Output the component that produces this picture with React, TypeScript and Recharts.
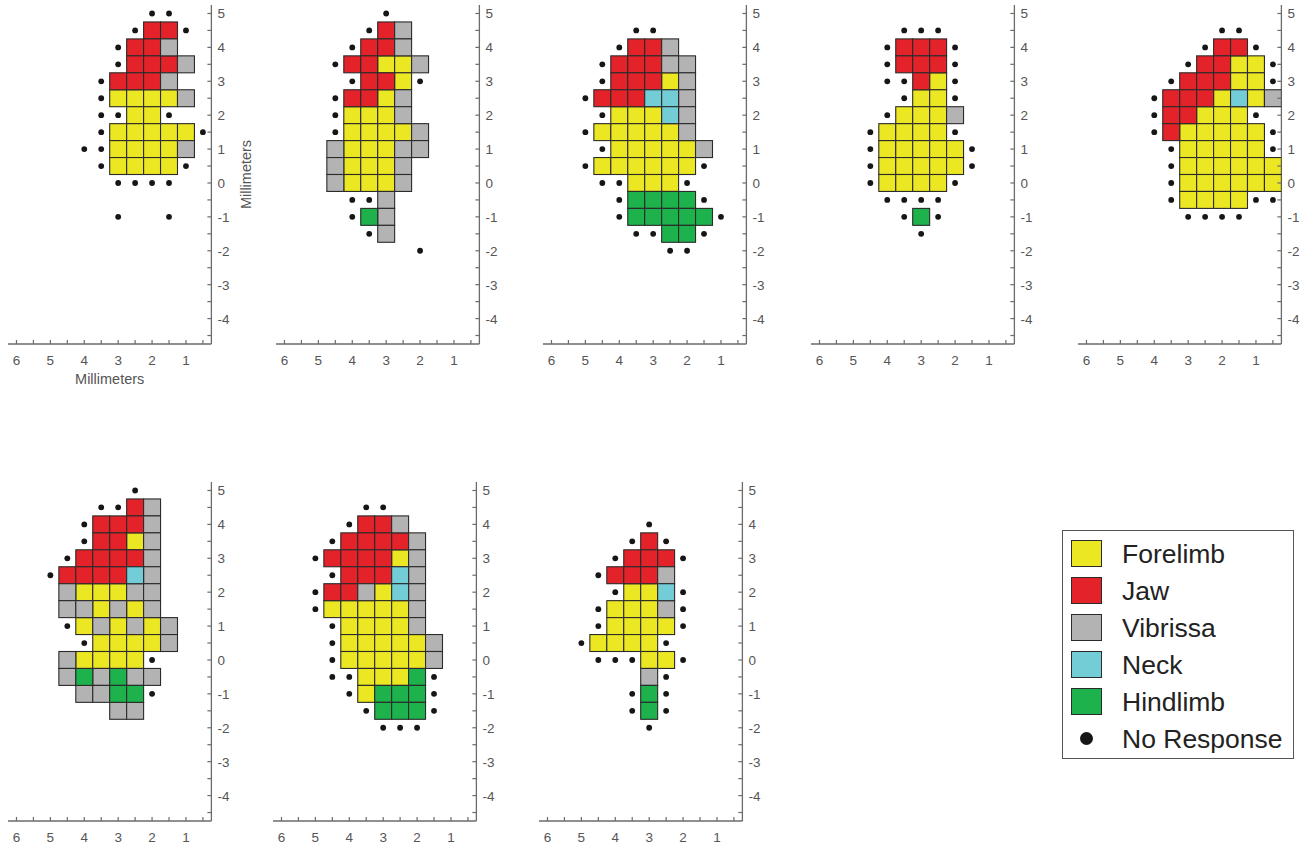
import React from 'react';
import { ScatterChart, Scatter, XAxis, YAxis, Label } from 'recharts';

type Kind = 'F' | 'J' | 'V' | 'N' | 'H';
type Site = [number, number, Kind];
type Pt = [number, number];

// response categories
const kinds: { key: Kind; label: string; color: string }[] = [
  { key: 'F', label: 'Forelimb', color: '#ebe723' },
  { key: 'J', label: 'Jaw', color: '#e4222a' },
  { key: 'V', label: 'Vibrissa', color: '#b3b3b3' },
  { key: 'N', label: 'Neck', color: '#73cdd6' },
  { key: 'H', label: 'Hindlimb', color: '#1db24c' },
];
const noResponseLabel = 'No Response';

const xTicks = [6, 5.5, 5, 4.5, 4, 3.5, 3, 2.5, 2, 1.5, 1, 0.5];
const yTicks = [5, 4.5, 4, 3.5, 3, 2.5, 2, 1.5, 1, 0.5, 0, -0.5, -1, -1.5, -2, -2.5, -3, -3.5, -4, -4.5];

// map 1
const sites1: Site[] = [
  [2, 4.5, 'J'], [1.5, 4.5, 'J'],
  [2.5, 4, 'J'], [2, 4, 'J'], [1.5, 4, 'V'],
  [2.5, 3.5, 'J'], [2, 3.5, 'J'], [1.5, 3.5, 'J'], [1, 3.5, 'V'],
  [3, 3, 'J'], [2.5, 3, 'J'], [2, 3, 'J'], [1.5, 3, 'V'],
  [3, 2.5, 'F'], [2.5, 2.5, 'F'], [2, 2.5, 'F'], [1.5, 2.5, 'F'], [1, 2.5, 'V'],
  [2.5, 2, 'F'], [2, 2, 'F'],
  [3, 1.5, 'F'], [2.5, 1.5, 'F'], [2, 1.5, 'F'], [1.5, 1.5, 'F'], [1, 1.5, 'F'],
  [3, 1, 'F'], [2.5, 1, 'F'], [2, 1, 'F'], [1.5, 1, 'F'], [1, 1, 'V'],
  [3, 0.5, 'F'], [2.5, 0.5, 'F'], [2, 0.5, 'F'], [1.5, 0.5, 'F'],
];
const dots1: Pt[] = [
  [2, 5], [1.5, 5], [2.5, 4.5], [1, 4.5], [3, 4], [3, 3.5], [3.5, 3], [3.5, 2.5],
  [3.5, 2], [3, 2], [1.5, 2], [3.5, 1.5], [0.5, 1.5], [4, 1], [3.5, 1], [3.5, 0.5], [1, 0.5],
  [3, 0], [2.5, 0], [2, 0], [1.5, 0], [3, -1], [1.5, -1],
];

// map 2
const sites2: Site[] = [
  [3, 4.5, 'J'], [2.5, 4.5, 'V'],
  [3.5, 4, 'J'], [3, 4, 'J'], [2.5, 4, 'V'],
  [4, 3.5, 'J'], [3.5, 3.5, 'J'], [3, 3.5, 'F'], [2.5, 3.5, 'F'], [2, 3.5, 'V'],
  [3.5, 3, 'J'], [3, 3, 'J'], [2.5, 3, 'F'],
  [4, 2.5, 'J'], [3.5, 2.5, 'J'], [3, 2.5, 'F'], [2.5, 2.5, 'V'],
  [4, 2, 'F'], [3.5, 2, 'F'], [3, 2, 'F'], [2.5, 2, 'V'],
  [4, 1.5, 'F'], [3.5, 1.5, 'F'], [3, 1.5, 'F'], [2.5, 1.5, 'F'], [2, 1.5, 'V'],
  [4.5, 1, 'V'], [4, 1, 'F'], [3.5, 1, 'F'], [3, 1, 'F'], [2.5, 1, 'V'], [2, 1, 'V'],
  [4.5, 0.5, 'V'], [4, 0.5, 'F'], [3.5, 0.5, 'F'], [3, 0.5, 'F'], [2.5, 0.5, 'V'],
  [4.5, 0, 'V'], [4, 0, 'F'], [3.5, 0, 'F'], [3, 0, 'F'], [2.5, 0, 'V'],
  [3, -0.5, 'V'],
  [3.5, -1, 'H'], [3, -1, 'V'],
  [3, -1.5, 'V'],
];
const dots2: Pt[] = [
  [3, 5], [3.5, 4.5], [4, 4], [4.5, 3.5], [4, 3], [2, 3], [4.5, 2.5], [4.5, 2], [4.5, 1.5],
  [4, -0.5], [3.5, -0.5], [4, -1], [3.5, -1.5], [2, -2],
];

// map 3
const sites3: Site[] = [
  [3.5, 4, 'J'], [3, 4, 'J'], [2.5, 4, 'V'],
  [4, 3.5, 'J'], [3.5, 3.5, 'J'], [3, 3.5, 'J'], [2.5, 3.5, 'V'], [2, 3.5, 'V'],
  [4, 3, 'J'], [3.5, 3, 'J'], [3, 3, 'J'], [2.5, 3, 'F'], [2, 3, 'V'],
  [4.5, 2.5, 'J'], [4, 2.5, 'J'], [3.5, 2.5, 'J'], [3, 2.5, 'N'], [2.5, 2.5, 'N'], [2, 2.5, 'V'],
  [4, 2, 'F'], [3.5, 2, 'F'], [3, 2, 'F'], [2.5, 2, 'N'], [2, 2, 'V'],
  [4.5, 1.5, 'F'], [4, 1.5, 'F'], [3.5, 1.5, 'F'], [3, 1.5, 'F'], [2.5, 1.5, 'F'], [2, 1.5, 'V'],
  [4, 1, 'F'], [3.5, 1, 'F'], [3, 1, 'F'], [2.5, 1, 'F'], [2, 1, 'F'], [1.5, 1, 'V'],
  [4.5, 0.5, 'F'], [4, 0.5, 'F'], [3.5, 0.5, 'F'], [3, 0.5, 'F'], [2.5, 0.5, 'F'], [2, 0.5, 'F'],
  [3.5, 0, 'F'], [3, 0, 'F'], [2.5, 0, 'F'],
  [3.5, -0.5, 'H'], [3, -0.5, 'H'], [2.5, -0.5, 'H'], [2, -0.5, 'H'],
  [3.5, -1, 'H'], [3, -1, 'H'], [2.5, -1, 'H'], [2, -1, 'H'], [1.5, -1, 'H'],
  [2.5, -1.5, 'H'], [2, -1.5, 'H'],
];
const dots3: Pt[] = [
  [3.5, 4.5], [3, 4.5], [4, 4], [4.5, 3.5], [4.5, 3], [5, 2.5], [4.5, 2], [5, 1.5], [4.5, 1],
  [5, 0.5], [1.5, 0.5], [4.5, 0], [4, 0], [2, 0], [4, -0.5], [1.5, -0.5], [4, -1], [1, -1],
  [3.5, -1.5], [3, -1.5], [1.5, -1.5], [2.5, -2], [2, -2],
];

// map 4
const sites4: Site[] = [
  [3.5, 4, 'J'], [3, 4, 'J'], [2.5, 4, 'J'],
  [3.5, 3.5, 'J'], [3, 3.5, 'J'], [2.5, 3.5, 'J'],
  [3, 3, 'J'], [2.5, 3, 'F'],
  [3, 2.5, 'F'], [2.5, 2.5, 'F'],
  [3.5, 2, 'F'], [3, 2, 'F'], [2.5, 2, 'F'], [2, 2, 'V'],
  [4, 1.5, 'F'], [3.5, 1.5, 'F'], [3, 1.5, 'F'], [2.5, 1.5, 'F'],
  [4, 1, 'F'], [3.5, 1, 'F'], [3, 1, 'F'], [2.5, 1, 'F'], [2, 1, 'F'],
  [4, 0.5, 'F'], [3.5, 0.5, 'F'], [3, 0.5, 'F'], [2.5, 0.5, 'F'], [2, 0.5, 'F'],
  [4, 0, 'F'], [3.5, 0, 'F'], [3, 0, 'F'], [2.5, 0, 'F'],
  [3, -1, 'H'],
];
const dots4: Pt[] = [
  [3.5, 4.5], [3, 4.5], [2.5, 4.5], [4, 4], [2, 4], [4, 3.5], [2, 3.5], [4, 3], [3.5, 3], [2, 3],
  [3.5, 2.5], [2, 2.5], [4, 2], [4.5, 1.5], [2, 1.5], [4.5, 1], [1.5, 1], [4.5, 0.5], [1.5, 0.5],
  [4.5, 0], [2, 0], [4, -0.5], [3.5, -0.5], [3, -0.5], [2.5, -0.5], [3.5, -1], [2.5, -1], [3, -1.5],
];

// map 5
const sites5: Site[] = [
  [2, 4, 'J'], [1.5, 4, 'J'],
  [2.5, 3.5, 'J'], [2, 3.5, 'J'], [1.5, 3.5, 'F'], [1, 3.5, 'F'],
  [3, 3, 'J'], [2.5, 3, 'J'], [2, 3, 'J'], [1.5, 3, 'F'], [1, 3, 'F'],
  [3.5, 2.5, 'J'], [3, 2.5, 'J'], [2.5, 2.5, 'J'], [2, 2.5, 'F'], [1.5, 2.5, 'N'], [1, 2.5, 'F'], [0.5, 2.5, 'V'],
  [3.5, 2, 'J'], [3, 2, 'J'], [2.5, 2, 'F'], [2, 2, 'F'], [1.5, 2, 'F'],
  [3.5, 1.5, 'J'], [3, 1.5, 'F'], [2.5, 1.5, 'F'], [2, 1.5, 'F'], [1.5, 1.5, 'F'], [1, 1.5, 'F'],
  [3, 1, 'F'], [2.5, 1, 'F'], [2, 1, 'F'], [1.5, 1, 'F'], [1, 1, 'F'],
  [3, 0.5, 'F'], [2.5, 0.5, 'F'], [2, 0.5, 'F'], [1.5, 0.5, 'F'], [1, 0.5, 'F'], [0.5, 0.5, 'F'],
  [3, 0, 'F'], [2.5, 0, 'F'], [2, 0, 'F'], [1.5, 0, 'F'], [1, 0, 'F'], [0.5, 0, 'F'],
  [3, -0.5, 'F'], [2.5, -0.5, 'F'], [2, -0.5, 'F'], [1.5, -0.5, 'F'],
];
const dots5: Pt[] = [
  [2, 4.5], [1.5, 4.5], [2.5, 4], [1, 4], [3, 3.5], [0.5, 3.5], [3.5, 3], [0.5, 3], [4, 2.5],
  [4, 2], [1, 2], [4, 1.5], [0.5, 1.5], [3.5, 1], [0.5, 1], [3.5, 0.5], [3.5, 0], [3.5, -0.5],
  [1, -0.5], [0.5, -0.5], [3, -1], [2.5, -1], [2, -1], [1.5, -1],
];

// map 6
const sites6: Site[] = [
  [2.5, 4.5, 'J'], [2, 4.5, 'V'],
  [3.5, 4, 'J'], [3, 4, 'J'], [2.5, 4, 'J'], [2, 4, 'V'],
  [3.5, 3.5, 'J'], [3, 3.5, 'J'], [2.5, 3.5, 'F'], [2, 3.5, 'V'],
  [4, 3, 'J'], [3.5, 3, 'J'], [3, 3, 'J'], [2.5, 3, 'J'], [2, 3, 'V'],
  [4.5, 2.5, 'J'], [4, 2.5, 'J'], [3.5, 2.5, 'J'], [3, 2.5, 'J'], [2.5, 2.5, 'N'], [2, 2.5, 'V'],
  [4.5, 2, 'V'], [4, 2, 'F'], [3.5, 2, 'F'], [3, 2, 'F'], [2.5, 2, 'V'], [2, 2, 'V'],
  [4.5, 1.5, 'V'], [4, 1.5, 'V'], [3.5, 1.5, 'F'], [3, 1.5, 'V'], [2.5, 1.5, 'F'], [2, 1.5, 'V'],
  [4, 1, 'F'], [3.5, 1, 'V'], [3, 1, 'F'], [2.5, 1, 'V'], [2, 1, 'F'], [1.5, 1, 'V'],
  [3.5, 0.5, 'F'], [3, 0.5, 'F'], [2.5, 0.5, 'F'], [2, 0.5, 'F'], [1.5, 0.5, 'V'],
  [4.5, 0, 'V'], [4, 0, 'F'], [3.5, 0, 'F'], [3, 0, 'F'], [2.5, 0, 'F'],
  [4.5, -0.5, 'V'], [4, -0.5, 'H'], [3.5, -0.5, 'V'], [3, -0.5, 'H'], [2.5, -0.5, 'V'], [2, -0.5, 'V'],
  [4, -1, 'V'], [3.5, -1, 'V'], [3, -1, 'H'], [2.5, -1, 'H'],
  [3, -1.5, 'V'], [2.5, -1.5, 'V'],
];
const dots6: Pt[] = [
  [2.5, 5], [3.5, 4.5], [3, 4.5], [4, 4], [4, 3.5], [4.5, 3], [5, 2.5], [4.5, 1], [4, 0.5], [2, 0], [2, -1],
];

// map 7
const sites7: Site[] = [
  [3.5, 4, 'J'], [3, 4, 'J'], [2.5, 4, 'V'],
  [4, 3.5, 'J'], [3.5, 3.5, 'J'], [3, 3.5, 'J'], [2.5, 3.5, 'J'], [2, 3.5, 'V'],
  [4.5, 3, 'J'], [4, 3, 'J'], [3.5, 3, 'J'], [3, 3, 'J'], [2.5, 3, 'F'], [2, 3, 'V'],
  [4, 2.5, 'J'], [3.5, 2.5, 'J'], [3, 2.5, 'J'], [2.5, 2.5, 'N'], [2, 2.5, 'V'],
  [4.5, 2, 'J'], [4, 2, 'J'], [3.5, 2, 'V'], [3, 2, 'F'], [2.5, 2, 'N'], [2, 2, 'V'],
  [4.5, 1.5, 'F'], [4, 1.5, 'F'], [3.5, 1.5, 'F'], [3, 1.5, 'F'], [2.5, 1.5, 'F'], [2, 1.5, 'V'],
  [4, 1, 'F'], [3.5, 1, 'F'], [3, 1, 'F'], [2.5, 1, 'F'], [2, 1, 'V'],
  [4, 0.5, 'F'], [3.5, 0.5, 'F'], [3, 0.5, 'F'], [2.5, 0.5, 'F'], [2, 0.5, 'F'], [1.5, 0.5, 'V'],
  [4, 0, 'F'], [3.5, 0, 'F'], [3, 0, 'F'], [2.5, 0, 'F'], [2, 0, 'F'], [1.5, 0, 'V'],
  [3.5, -0.5, 'F'], [3, -0.5, 'F'], [2.5, -0.5, 'F'], [2, -0.5, 'H'],
  [3.5, -1, 'F'], [3, -1, 'H'], [2.5, -1, 'H'], [2, -1, 'H'],
  [3, -1.5, 'H'], [2.5, -1.5, 'H'], [2, -1.5, 'H'],
];
const dots7: Pt[] = [
  [3.5, 4.5], [3, 4.5], [4, 4], [4.5, 3.5], [5, 3], [4.5, 2.5], [5, 2], [5, 1.5], [4.5, 1],
  [4.5, 0.5], [4.5, 0], [4.5, -0.5], [4, -0.5], [1.5, -0.5], [4, -1], [1.5, -1], [3.5, -1.5],
  [1.5, -1.5], [3, -2], [2.5, -2], [2, -2],
];

// map 8
const sites8: Site[] = [
  [3, 3.5, 'J'],
  [3.5, 3, 'J'], [3, 3, 'J'], [2.5, 3, 'J'],
  [4, 2.5, 'J'], [3.5, 2.5, 'J'], [3, 2.5, 'J'], [2.5, 2.5, 'V'],
  [3.5, 2, 'F'], [3, 2, 'F'], [2.5, 2, 'N'],
  [4, 1.5, 'F'], [3.5, 1.5, 'F'], [3, 1.5, 'F'], [2.5, 1.5, 'V'],
  [4, 1, 'F'], [3.5, 1, 'F'], [3, 1, 'F'], [2.5, 1, 'F'],
  [4.5, 0.5, 'F'], [4, 0.5, 'F'], [3.5, 0.5, 'F'], [3, 0.5, 'F'],
  [3, 0, 'F'], [2.5, 0, 'F'],
  [3, -0.5, 'V'],
  [3, -1, 'H'],
  [3, -1.5, 'H'],
];
const dots8: Pt[] = [
  [3, 4], [3.5, 3.5], [2.5, 3.5], [4, 3], [2, 3], [4.5, 2.5], [4, 2], [2, 2], [4.5, 1.5], [2, 1.5],
  [4.5, 1], [2, 1], [5, 0.5], [2.5, 0.5], [4.5, 0], [4, 0], [3.5, 0], [2, 0], [2.5, -0.5],
  [3.5, -1], [2.5, -1], [3.5, -1.5], [2.5, -1.5], [3, -2],
];

const maps = [
  { sites: sites1, dots: dots1 },
  { sites: sites2, dots: dots2 },
  { sites: sites3, dots: dots3 },
  { sites: sites4, dots: dots4 },
  { sites: sites5, dots: dots5 },
  { sites: sites6, dots: dots6 },
  { sites: sites7, dots: dots7 },
  { sites: sites8, dots: dots8 },
];

// layout (plot-area top-left of each panel, page px)
const panelPos = [
  [8.2, 4.9], [275.7, 4.9], [543.2, 4.9], [810.7, 4.9], [1078.2, 4.9],
  [8.2, 482.4], [273.2, 482.4], [539.2, 482.4],
];
const PX_PER_MM = 33.9;
const PLOT_W = 6 * PX_PER_MM;
const PLOT_H = 10 * PX_PER_MM;
const X_AXIS_H = 50;
const Y_AXIS_W = 69;
const CELL = 0.5 * PX_PER_MM;
const AXIS_COLOR = '#6b6b6b';
const TEXT_COLOR = '#555';
const FONT = '"Liberation Sans", Arial, sans-serif';

function XTick({ x, y, payload }: any) {
  const v = payload.value;
  return (
    <g>
      <line x1={x} x2={x} y1={y} y2={y - 4} stroke={AXIS_COLOR} strokeWidth={1.2} />
      {Number.isInteger(v) && (
        <text x={x} y={y + 21} textAnchor="middle" fontSize={13.5} fill={TEXT_COLOR} fontFamily={FONT}>
          {v}
        </text>
      )}
    </g>
  );
}

function YTick({ x, y, payload }: any) {
  const v = payload.value;
  return (
    <g>
      <line x1={x - 4} x2={x} y1={y} y2={y} stroke={AXIS_COLOR} strokeWidth={1.2} />
      {Number.isInteger(v) && (
        <text x={x + 6} y={y + 5} textAnchor="start" fontSize={13.5} fill={TEXT_COLOR} fontFamily={FONT}>
          {v}
        </text>
      )}
    </g>
  );
}

const cellShape = (color: string) => (props: any) => (
  <rect
    x={props.cx - CELL / 2}
    y={props.cy - CELL / 2}
    width={CELL}
    height={CELL}
    fill={color}
    stroke="#2b2b2b"
    strokeWidth={1.1}
  />
);

const dotShape = (props: any) => <circle cx={props.cx} cy={props.cy} r={2.9} fill="#161616" />;

function MotorMap({ sites, dots, left, top, showLabels }: { sites: Site[]; dots: Pt[]; left: number; top: number; showLabels: boolean }) {
  return (
    <div style={{ position: 'absolute', left, top }}>
      <ScatterChart width={PLOT_W + Y_AXIS_W} height={PLOT_H + X_AXIS_H} margin={{ top: 0, right: 0, bottom: 0, left: 0 }}>
        <XAxis
          type="number"
          dataKey="x"
          domain={[0.25, 6.25]}
          allowDataOverflow
          reversed
          ticks={xTicks}
          interval={0}
          tickSize={0}
          tickMargin={0}
          tickLine={false}
          tick={<XTick />}
          height={X_AXIS_H}
          axisLine={{ stroke: AXIS_COLOR, strokeWidth: 1.3 }}
        >
          {showLabels && (
            <Label value="Millimeters" position="insideTop" offset={30} fill={TEXT_COLOR} fontSize={14.5} fontFamily={FONT} />
          )}
        </XAxis>
        <YAxis
          type="number"
          dataKey="y"
          orientation="right"
          domain={[-4.75, 5.25]}
          allowDataOverflow
          ticks={yTicks}
          interval={0}
          tickSize={0}
          tickMargin={0}
          tickLine={false}
          tick={<YTick />}
          width={Y_AXIS_W}
          axisLine={{ stroke: AXIS_COLOR, strokeWidth: 1.3 }}
        >
          {showLabels && (
            <Label value="Millimeters" angle={-90} position="center" fill={TEXT_COLOR} fontSize={14.5} fontFamily={FONT} />
          )}
        </YAxis>
        {kinds.map((k) => (
          <Scatter
            key={k.key}
            name={k.label}
            data={sites.filter((s) => s[2] === k.key).map(([x, y]) => ({ x, y }))}
            shape={cellShape(k.color)}
            isAnimationActive={false}
          />
        ))}
        <Scatter name={noResponseLabel} data={dots.map(([x, y]) => ({ x, y }))} shape={dotShape} isAnimationActive={false} />
      </ScatterChart>
    </div>
  );
}

function MapLegend() {
  return (
    <div
      style={{
        position: 'absolute',
        left: 1062,
        top: 529.5,
        width: 230,
        height: 227,
        border: '1px solid #555',
        fontFamily: FONT,
      }}
    >
      {[...kinds, null].map((k, i) => (
        <div key={k ? k.key : 'none'} style={{ position: 'absolute', left: 0, top: 9 + i * 37, height: 28, display: 'flex', alignItems: 'center' }}>
          {k ? (
            <span style={{ marginLeft: 8, width: 29, height: 25, background: k.color, border: '1px solid #2b2b2b' }} />
          ) : (
            <span style={{ marginLeft: 17, marginRight: 9, width: 13, height: 13, borderRadius: '50%', background: '#161616' }} />
          )}
          <span style={{ marginLeft: 20, fontSize: 26.5, color: '#222', lineHeight: '28px' }}>{k ? k.label : noResponseLabel}</span>
        </div>
      ))}
    </div>
  );
}

export default function App() {
  return (
    <div style={{ position: 'absolute', left: 0, top: 0, width: 1306, height: 850, background: '#fff', fontFamily: FONT }}>
      {maps.map((m, i) => (
        <MotorMap
          key={i}
          sites={m.sites}
          dots={m.dots}
          left={panelPos[i][0]}
          top={panelPos[i][1]}
          showLabels={i === 0}
        />
      ))}
      <MapLegend />
    </div>
  );
}
